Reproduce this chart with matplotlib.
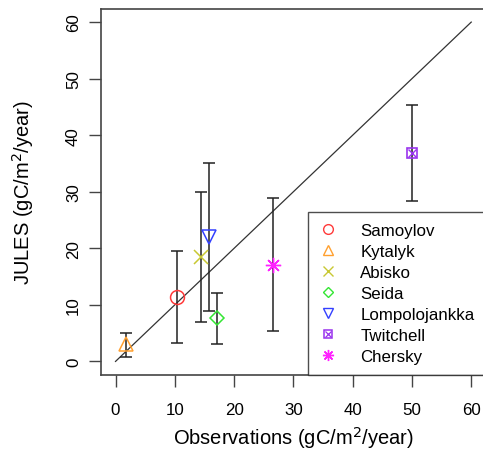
import matplotlib
matplotlib.use('Agg')
import matplotlib.pyplot as plt
from matplotlib.lines import Line2D
from matplotlib.legend_handler import HandlerTuple

plt.rcParams['font.family'] = ['Liberation Sans', 'DejaVu Sans']

# site data
sites = ['Samoylov', 'Kytalyk', 'Abisko', 'Seida', 'Lompolojankka', 'Twitchell', 'Chersky']
obs = [10.3, 1.8, 14.4, 17.2, 15.8, 50.0, 26.6]
jules = [11.4, 3.0, 18.4, 7.6, 22.0, 36.9, 17.1]
jules_lo = [3.2, 0.7, 7.0, 3.0, 9.0, 28.4, 5.3]
jules_hi = [19.6, 5.1, 29.9, 12.1, 35.0, 45.4, 28.9]
colors = ['#FF3A3A', '#FFA030', '#C8C833', '#33E633', '#3340FF', '#9933EE', '#FF22FF']
markers = ['o', '^', 'x', 'D', 'v', 'sx', 'ast']

fig = plt.figure(figsize=(4.83, 4.6), dpi=100)
ax = fig.add_axes([0.2097, 0.1826, 0.7954, 0.7967])

# 1:1 line
ax.plot([0, 60], [0, 60], color='#333333', lw=0.9, zorder=1)


def draw_marker(target, x, y, m, c, scale=1.0):
    # returns the artist(s) for one R-style point symbol
    if m == 'sx':
        a, = target.plot(x, y, ls='none', marker='s', ms=7.5 * scale, mfc='none', mec=c, mew=1.2)
        b, = target.plot(x, y, ls='none', marker='x', ms=6 * scale, mec=c, mew=1.0)
        return (a, b)
    if m == 'ast':
        a, = target.plot(x, y, ls='none', marker=(8, 2, 0), ms=11 * scale, mec=c, mew=1.0)
        return a
    ms = 7.5 if m == 'D' else 10
    a, = target.plot(x, y, ls='none', marker=m, ms=ms * scale, mfc='none', mec=c, mew=1.1)
    return a


for i, site in enumerate(sites):
    x, y = obs[i], jules[i]
    ax.errorbar([x], [y], yerr=[[y - jules_lo[i]], [jules_hi[i] - y]], fmt='none',
                ecolor='#222222', elinewidth=1.1, capsize=4.5, capthick=1.1, zorder=2)
    art = draw_marker(ax, [x], [y], markers[i], colors[i])
    for a in (art if isinstance(art, tuple) else (art,)):
        a.set_zorder(3)

# legend proxies (smaller symbols, as in the reference)
proxies = []
for i, site in enumerate(sites):
    m, c = markers[i], colors[i]
    if m == 'sx':
        proxies.append((Line2D([], [], ls='none', marker='s', ms=5.2, mfc='none', mec=c, mew=1.1),
                        Line2D([], [], ls='none', marker='x', ms=4.2, mec=c, mew=0.9)))
    elif m == 'ast':
        proxies.append(Line2D([], [], ls='none', marker=(8, 2, 0), ms=8, mec=c, mew=1.0))
    else:
        ms = 5.5 if m == 'D' else 7
        proxies.append(Line2D([], [], ls='none', marker=m, ms=ms, mfc='none', mec=c, mew=1.0))

ax.set_xlim(-2.4, 62.4)
ax.set_ylim(-2.4, 62.4)
ax.set_xticks(range(0, 61, 10))
ax.set_yticks(range(0, 61, 10))
ax.tick_params(direction='out', length=8.6, width=1.0, color='#444444', labelsize=12.2)
ax.tick_params(axis='x', pad=11)
ax.tick_params(axis='y', pad=6)
for lab in ax.get_yticklabels():
    lab.set_rotation(90)
    lab.set_va('center')
for sp in ax.spines.values():
    sp.set_color('#444444')
    sp.set_linewidth(1.2)

ax.set_xlabel('Observations (gC/m$^2$/year)', fontsize=14.5, va='baseline')
ax.xaxis.set_label_coords(0.5, -0.189)
ax.set_ylabel('JULES (gC/m$^2$/year)', fontsize=14.5, va='baseline')
ax.yaxis.set_label_coords(-0.185, 0.5)

leg = ax.legend(proxies, sites, loc='lower right', bbox_to_anchor=(1.0, 0.0),
                fontsize=12.2, frameon=True, fancybox=False, borderaxespad=0,
                borderpad=0.65, handlelength=1.07, handletextpad=1.36, labelspacing=0.35,
                handler_map={tuple: HandlerTuple(ndivide=1, pad=0)})
leg.get_frame().set_edgecolor('#222222')
leg.get_frame().set_linewidth(1.0)

fig.savefig('out.png', dpi=100)
